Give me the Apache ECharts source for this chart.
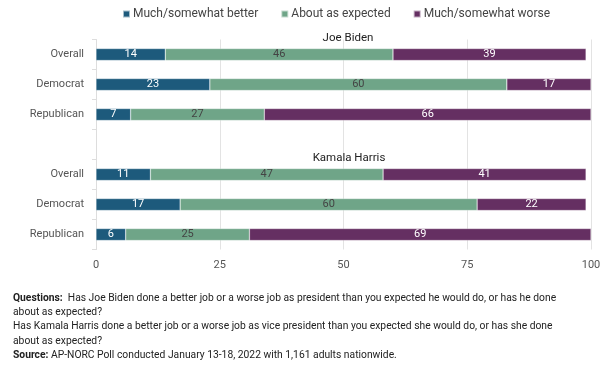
<!DOCTYPE html>
<html>
<head>
<meta charset="utf-8">
<script src="https://cdn.jsdelivr.net/npm/echarts@6/dist/echarts.min.js"></script>
<style>
html,body{margin:0;padding:0;background:#fff;}
#chart{width:612px;height:374px;}
</style>
</head>
<body>
<div id="chart"></div>
<script>
var panels = ["Joe Biden", "Kamala Harris"];
var groups = ["Overall", "Democrat", "Republican"];
var seriesNames = ["Much/somewhat better", "About as expected", "Much/somewhat worse"];
var bidenBetter = [14, 23, 7];
var bidenExpected = [46, 60, 27];
var bidenWorse = [39, 17, 66];
var harrisBetter = [11, 17, 6];
var harrisExpected = [47, 60, 25];
var harrisWorse = [41, 22, 69];
var xTicks = [0, 25, 50, 75, 100];

var colors = ["#1d5a7c", "#6fa588", "#652f62"];
var labelColors = ["#ffffff", "#444444", "#ffffff"];

// categories: panel1 rows, gap, panel2 rows
var cats = [];
groups.forEach(function (g) { cats.push(panels[0] + "|" + g); });
cats.push("gap");
groups.forEach(function (g) { cats.push(panels[1] + "|" + g); });

function combine(a, b) { return a.concat(["-"]).concat(b); }
var values = [
  combine(bidenBetter, harrisBetter),
  combine(bidenExpected, harrisExpected),
  combine(bidenWorse, harrisWorse)
];

var chart = echarts.init(document.getElementById('chart'));
var FONT = 'Roboto';
chart.setOption({
  animation: false,
  textStyle: { fontFamily: FONT },
  legend: {
    top: 3,
    left: 117,
    itemWidth: 7,
    itemHeight: 7,
    itemGap: 22,
    icon: 'rect',
    textStyle: { fontFamily: FONT, fontSize: 12, color: '#444', padding: [0, 0, 0, -2] },
    data: seriesNames
  },
  title: [
    { text: panels[0], left: 343, top: 27, textAlign: 'center',
      textStyle: { fontFamily: FONT, fontSize: 11.5, fontWeight: 'normal', color: '#222' } },
    { text: panels[1], left: 344, top: 147, textAlign: 'center',
      textStyle: { fontFamily: FONT, fontSize: 11.5, fontWeight: 'normal', color: '#222' } },
    {
      left: 8, top: 286,
      text: '{b|Questions:}  Has Joe Biden done a better job or a worse job as president than you expected he would do, or has he done\nabout as expected?\nHas Kamala Harris done a better job or a worse job as vice president than you expected she would do, or has she done\nabout as expected?\n{b|Source:} AP-NORC Poll conducted January 13-18, 2022 with 1,161 adults nationwide.',
      textStyle: {
        fontFamily: FONT, fontSize: 10.3, fontWeight: 'normal', color: '#222', lineHeight: 14.3,
        rich: { b: { fontFamily: FONT, fontSize: 10.3, fontWeight: 'bold', color: '#222', lineHeight: 14.3 } }
      }
    }
  ],
  grid: { left: 96, right: 21, top: 39.5, height: 210, containLabel: false },
  xAxis: {
    type: 'value', min: 0, max: 100, interval: 25,
    axisLine: { show: false }, axisTick: { show: false },
    axisLabel: { color: '#555', fontSize: 11, margin: 10, fontFamily: FONT,
      customValues: xTicks },
    splitLine: { show: true, lineStyle: { color: '#e3e3e3', width: 1 } }
  },
  yAxis: {
    type: 'category', inverse: true, data: cats,
    axisLine: { show: true, lineStyle: { color: '#dddddd' } },
    axisTick: { show: true, length: 4, lineStyle: { color: '#dddddd' } },
    axisLabel: {
      color: '#555', fontSize: 11, margin: 12, fontFamily: FONT,
      formatter: function (v) { return v === 'gap' ? '' : v.split('|')[1]; }
    }
  },
  series: seriesNames.map(function (name, i) {
    return {
      name: name, type: 'bar', stack: 'total', barWidth: 12,
      data: values[i],
      itemStyle: { color: colors[i], borderColor: 'rgba(255,255,255,0.6)', borderWidth: 0.5 },
      label: { show: true, position: 'inside', color: labelColors[i], fontSize: 11, fontFamily: FONT }
    };
  })
});
</script>
</body>
</html>
